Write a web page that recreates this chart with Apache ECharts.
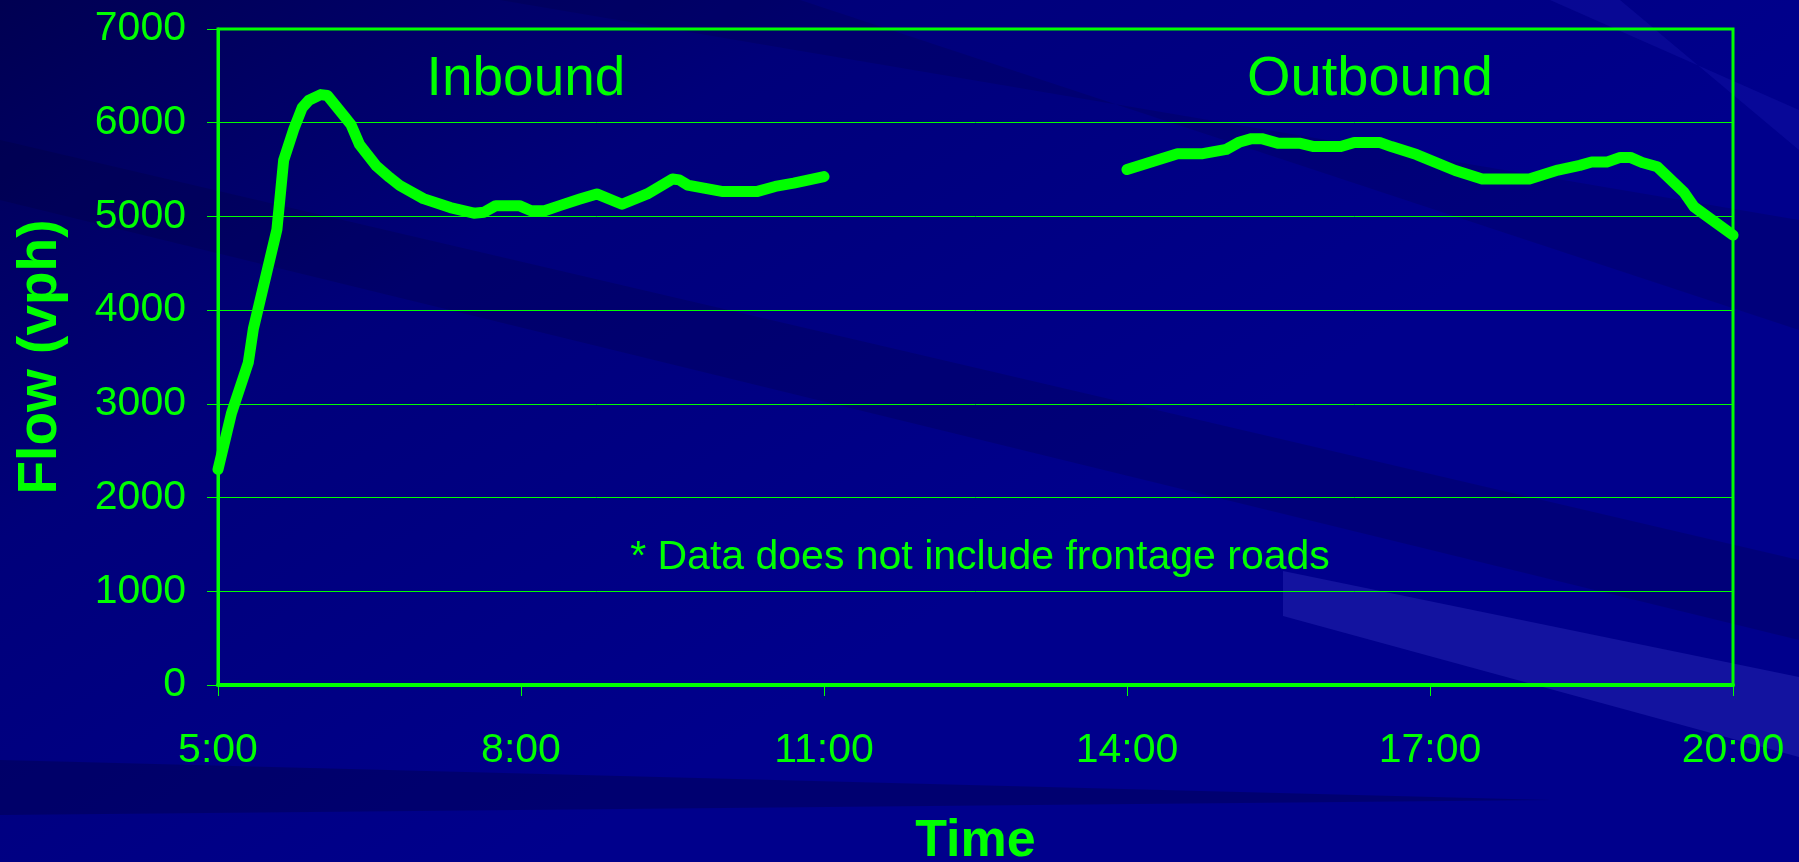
<!DOCTYPE html>
<html>
<head>
<meta charset="utf-8">
<title>Flow (vph)</title>
<script src="https://cdn.jsdelivr.net/npm/echarts@6/dist/echarts.min.js"></script>
<style>
  html, body { margin: 0; padding: 0; background: #000070; }
  #chart { width: 1799px; height: 862px; }
</style>
</head>
<body>
<div id="chart"></div>
<script>
// inbound (morning) readings
var inboundTimes = ['5:00', '5:08', '5:18', '5:21', '5:35', '5:39', '5:45', '5:50', '5:54', '6:01',
  '6:05', '6:15', '6:19', '6:24', '6:34', '6:42', '6:48', '7:02', '7:18', '7:32',
  '7:38', '7:45', '7:59', '8:06', '8:14', '8:23', '8:35', '8:45', '9:00', '9:15',
  '9:23', '9:30', '9:34', '9:39', '10:00', '10:20', '10:31', '10:42', '11:00']
var inboundFlow = [2300, 2900, 3440, 3800, 4860, 5600, 5930, 6160, 6240, 6300,
  6290, 6070, 5980, 5770, 5540, 5415, 5330, 5190, 5095, 5035,
  5045, 5115, 5115, 5060, 5060, 5115, 5185, 5240, 5130, 5240,
  5325, 5400, 5390, 5335, 5265, 5265, 5320, 5355, 5425]

// outbound (evening) readings
var outboundTimes = ['14:00', '14:30', '14:45', '14:59', '15:07', '15:14', '15:20', '15:30', '15:43', '15:51',
  '16:07', '16:15', '16:30', '16:37', '16:52', '17:15', '17:31', '17:59', '18:16', '18:29',
  '18:36', '18:45', '18:53', '18:59', '19:06', '19:15', '19:31', '19:37', '19:47', '20:00']
var outboundFlow = [5500, 5670, 5670, 5715, 5795, 5830, 5830, 5780, 5780, 5745,
  5745, 5790, 5790, 5745, 5660, 5490, 5400, 5400, 5495, 5545,
  5580, 5580, 5630, 5630, 5575, 5530, 5255, 5100, 4970, 4800]

var hourTicks = [5, 8, 11, 14, 17, 20]

var GREEN = '#00ff00'
var FONT = 'Liberation Sans'

function toHours(t) {
  var p = t.split(':')
  return Number(p[0]) + Number(p[1]) / 60
}

function pairs(times, flow) {
  return times.map(function (t, i) {
    return [toHours(t), flow[i]]
  })
}

var lineStyle = {
  color: GREEN,
  width: 11,
  cap: 'round',
  join: 'round',
}

var chart = echarts.init(document.getElementById('chart'))

var option = {
  animation: false,
  backgroundColor: {
    type: 'linear',
    x: 0, y: 0, x2: 0.3, y2: 1,
    colorStops: [
      { offset: 0, color: '#000052' },
      { offset: 0.45, color: '#00007a' },
      { offset: 1, color: '#00008c' },
    ],
  },
  graphic: [
    // background streaks
    {
      type: 'polygon', silent: true, z: -10,
      shape: { points: [[0, 140], [0, 200], [1799, 640], [1799, 560]] },
      style: { fill: 'rgba(0,0,40,0.18)' },
    },
    {
      type: 'polygon', silent: true, z: -10,
      shape: { points: [[500, 0], [800, 0], [1799, 330], [1799, 220]] },
      style: { fill: 'rgba(0,0,50,0.18)' },
    },
    {
      type: 'polygon', silent: true, z: -10,
      shape: { points: [[1550, 0], [1620, 0], [1799, 150], [1799, 110]] },
      style: { fill: 'rgba(40,40,200,0.2)' },
    },
    {
      type: 'polygon', silent: true, z: -10,
      shape: { points: [[1283, 571], [1799, 677], [1799, 757], [1283, 616]] },
      style: { fill: 'rgba(70,70,210,0.28)' },
    },
    {
      type: 'polygon', silent: true, z: -10,
      shape: { points: [[0, 760], [1550, 800], [0, 815]] },
      style: { fill: 'rgba(0,0,50,0.3)' },
    },
    // labels inside the plot
    {
      type: 'text', x: 526, y: 80, z: 10,
      style: { text: 'Inbound', fill: GREEN, font: '55px "Liberation Sans"', textAlign: 'center', textVerticalAlign: 'middle' },
    },
    {
      type: 'text', x: 1370, y: 80, z: 10,
      style: { text: 'Outbound', fill: GREEN, font: '56px "Liberation Sans"', textAlign: 'center', textVerticalAlign: 'middle' },
    },
    {
      type: 'text', x: 980, y: 558, z: 10,
      style: { text: '* Data does not include frontage roads', fill: GREEN, font: '41px "Liberation Sans"', textAlign: 'center', textVerticalAlign: 'middle' },
    },
  ],
  grid: {
    left: 218,
    right: 66,
    top: 29,
    bottom: 177,
    outerBoundsMode: 'none',
    show: true,
    borderColor: GREEN,
    borderWidth: 3,
  },
  xAxis: {
    type: 'value',
    min: 5,
    max: 20,
    interval: 3,
    name: 'Time',
    nameLocation: 'middle',
    nameGap: 131,
    nameTextStyle: { color: GREEN, fontFamily: FONT, fontSize: 52, fontWeight: 'bold' },
    axisLine: { show: true, lineStyle: { color: GREEN, width: 4 } },
    axisTick: { show: true, length: 11, lineStyle: { color: GREEN, width: 1 } },
    axisLabel: {
      color: GREEN,
      fontFamily: FONT,
      fontSize: 41,
      margin: 45,
      formatter: function (v) {
        return hourTicks.indexOf(v) >= 0 ? v + ':00' : ''
      },
    },
    splitLine: { show: false },
  },
  yAxis: {
    type: 'value',
    min: 0,
    max: 7000,
    interval: 1000,
    name: 'Flow (vph)',
    nameLocation: 'middle',
    nameGap: 150,
    nameTextStyle: { color: GREEN, fontFamily: FONT, fontSize: 55, fontWeight: 'bold' },
    axisLine: { show: true, lineStyle: { color: GREEN, width: 3 } },
    axisTick: { show: true, length: 11, lineStyle: { color: GREEN, width: 1 } },
    axisLabel: {
      color: GREEN,
      fontFamily: FONT,
      fontSize: 41,
      margin: 32,
      formatter: function (v) {
        return String(v)
      },
    },
    splitLine: { show: true, lineStyle: { color: GREEN, width: 1 } },
  },
  series: [
    {
      name: 'Inbound',
      type: 'line',
      showSymbol: false,
      data: pairs(inboundTimes, inboundFlow),
      lineStyle: lineStyle,
      z: 5,
    },
    {
      name: 'Outbound',
      type: 'line',
      showSymbol: false,
      data: pairs(outboundTimes, outboundFlow),
      lineStyle: lineStyle,
      z: 5,
    },
  ],
}

chart.setOption(option)
</script>
</body>
</html>
